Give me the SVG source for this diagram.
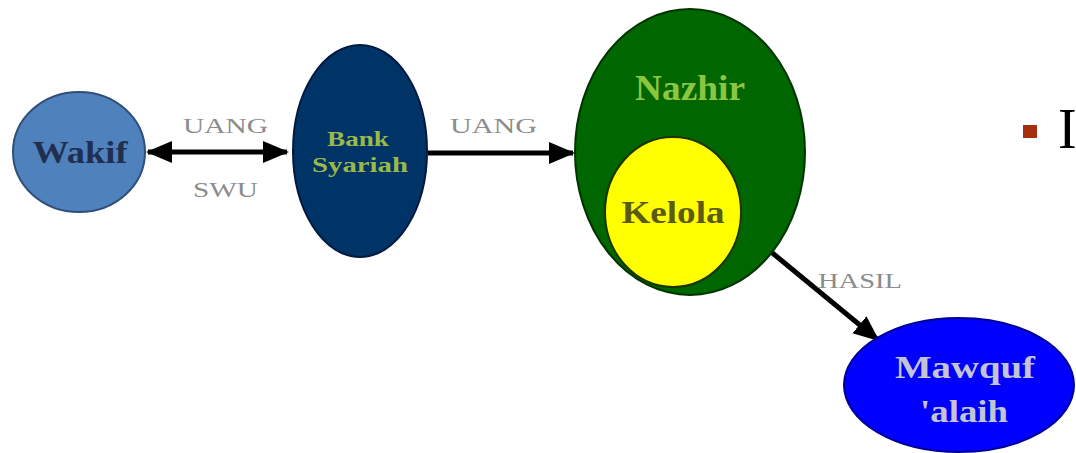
<svg xmlns="http://www.w3.org/2000/svg" width="1076" height="453" viewBox="0 0 1076 453">
<style>
.lbl{font-family:"Liberation Serif","DejaVu Serif",serif;fill:#8c8c8c;font-size:22px}
.nt{font-family:"Liberation Serif","DejaVu Serif",serif;text-anchor:middle;font-weight:bold}
.conn{stroke:#000;stroke-width:5;fill:none}
</style>
<defs>
<marker id="ah" markerUnits="userSpaceOnUse" markerWidth="26" markerHeight="26" viewBox="0 0 26 26" refX="24" refY="13" orient="auto-start-reverse">
<path d="M0,2 L26,13 L0,24 Z" fill="#000"/>
</marker>
</defs>
<rect width="1076" height="453" fill="#fff"/>
<g id="connectors">
<line class="conn" x1="148" y1="152" x2="287" y2="152" marker-start="url(#ah)" marker-end="url(#ah)"/>
<line class="conn" x1="428" y1="153" x2="573" y2="153" marker-end="url(#ah)"/>
<line class="conn" x1="770" y1="251" x2="878" y2="340" marker-end="url(#ah)"/>
<text class="lbl" x="183" y="133" textLength="85" lengthAdjust="spacingAndGlyphs">UANG</text>
<text class="lbl" x="193" y="197" textLength="65" lengthAdjust="spacingAndGlyphs">SWU</text>
<text class="lbl" x="450" y="133" textLength="87" lengthAdjust="spacingAndGlyphs">UANG</text>
<text class="lbl" x="818" y="288" textLength="84" lengthAdjust="spacingAndGlyphs">HASIL</text>
</g>
<g id="wakif">
<ellipse cx="79" cy="152" rx="66" ry="60" fill="#4f81bd" stroke="#2f4f7a" stroke-width="2"/>
<text class="nt" x="80" y="163" font-size="32" fill="#1f2f4f" textLength="95" lengthAdjust="spacingAndGlyphs">Wakif</text>
</g>
<g id="bank">
<ellipse cx="360" cy="151" rx="67" ry="106" fill="#003366" stroke="#001a40" stroke-width="2"/>
<text class="nt" x="358" y="146" font-size="22" fill="#9bb84a" textLength="62" lengthAdjust="spacingAndGlyphs">Bank</text>
<text class="nt" x="360" y="172" font-size="22" fill="#9bb84a" textLength="96" lengthAdjust="spacingAndGlyphs">Syariah</text>
</g>
<g id="nazhir">
<ellipse cx="690" cy="152" rx="115" ry="143" fill="#006600" stroke="#003300" stroke-width="2"/>
<text class="nt" x="690" y="100" font-size="36" fill="#8cc63f" textLength="110" lengthAdjust="spacingAndGlyphs">Nazhir</text>
</g>
<g id="kelola">
<ellipse cx="673" cy="212" rx="68" ry="75" fill="#ffff00" stroke="#1a3300" stroke-width="2"/>
<text class="nt" x="673" y="223" font-size="32" fill="#5a5a10" textLength="103" lengthAdjust="spacingAndGlyphs">Kelola</text>
</g>
<g id="mawquf">
<ellipse cx="959" cy="385" rx="115" ry="67" fill="#0000ff" stroke="#000099" stroke-width="2"/>
<text class="nt" x="965" y="378" font-size="32" fill="#c4c4d4" textLength="140" lengthAdjust="spacingAndGlyphs">Mawquf</text>
<text class="nt" x="964" y="422" font-size="32" fill="#c4c4d4" textLength="88" lengthAdjust="spacingAndGlyphs">'alaih</text>
</g>
<g id="bullet">
<rect x="1023" y="125" width="14" height="13" fill="#a5300f"/>
<text x="1058" y="148" font-family="Liberation Serif,serif" font-size="56" fill="#000">I</text>
</g>
</svg>
